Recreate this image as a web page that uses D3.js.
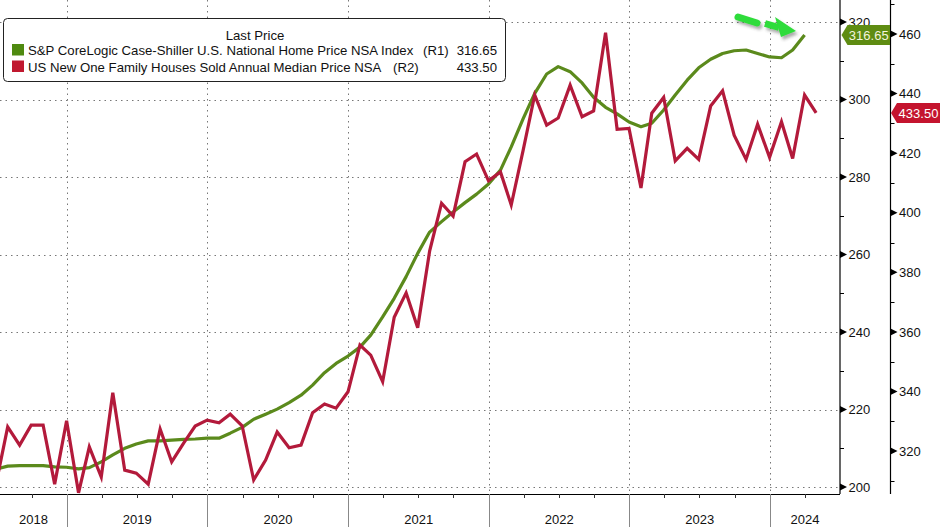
<!DOCTYPE html>
<html>
<head>
<meta charset="utf-8">
<script src="https://cdn.jsdelivr.net/npm/d3@7"></script>
<style>
  html, body { margin: 0; padding: 0; background: #fff; }
  svg { display: block; font-family: "Liberation Sans", Arial, sans-serif; }
</style>
</head>
<body>
<svg id="chart" width="940" height="527"></svg>
<script>
// monthly series, first value = June 2018, plotted at month end
const START_YEAR = 2018, START_MONTH = 5;

// S&P CoreLogic Case-Shiller U.S. National Home Price NSA Index (R1)
const caseShiller = [
  204.6, 205.4, 205.5, 205.5, 205.5, 205.2, 205.1,
  204.7, 205.0, 206.5, 208.3, 210.0, 211.1, 211.9, 211.9, 212.1, 212.3, 212.4, 212.6,
  212.6, 213.9, 215.4, 217.5, 218.8, 220.1, 221.8, 223.7, 226.3, 229.5, 231.9, 233.8,
  236.1, 239.2, 243.9, 248.7, 254.3, 260.3, 265.8, 268.5, 271.0, 273.4, 275.6, 278.2,
  281.8, 287.8, 295.1, 301.6, 306.6, 308.5, 307.2, 304.3, 300.6, 298.0, 296.3, 294.2,
  293.0, 293.9, 297.3, 301.2, 305.0, 308.2, 310.4, 311.9, 312.6, 312.8, 311.9, 311.0,
  310.8, 312.8, 316.65
];

// US New One Family Houses Sold Annual Median Price NSA (R2), $ thousands
const newHomeMedian = [
  308.6, 328.1, 322.0, 328.7, 328.7, 308.9, 330.2,
  306.0, 321.4, 311.3, 339.6, 313.6, 312.6, 308.9, 327.4, 316.4, 322.7, 328.4, 330.4,
  329.5, 332.4, 328.5, 310.3, 317.0, 326.4, 321.1, 322.0, 332.9, 335.8, 334.4, 339.9,
  355.6, 352.2, 343.3, 364.9, 373.1, 361.4, 387.1, 403.2, 398.9, 417.1, 419.7, 410.7,
  413.7, 402.6, 421.0, 439.5, 429.4, 431.8, 442.8, 432.2, 434.2, 460.4, 428.0, 428.3,
  408.3, 433.4, 438.7, 417.4, 421.6, 417.9, 435.8, 440.9, 426.0, 417.9, 429.7, 418.6,
  430.5, 418.2, 439.5, 433.5
];

const seriesNames = [
  "S&P CoreLogic Case-Shiller U.S. National Home Price NSA Index",
  "US New One Family Houses Sold Annual Median Price NSA"
];
const seriesAxes = ["(R1)", "(R2)"];
const lastPrices = ["316.65", "433.50"];
const r1Ticks = [200, 220, 240, 260, 280, 300, 320];
const r1Minor = [210, 230, 250, 270, 290, 310];
const r2Ticks = [320, 340, 360, 380, 400, 420, 440, 460];
const r2Minor = [310, 330, 350, 370, 390, 410, 430, 450, 470];
const yearLabels = [2018, 2019, 2020, 2021, 2022, 2023, 2024];

const GREEN = "#5b8a1c", RED = "#b31a3b";

const svg = d3.select("#chart");
const plotW = 840, plotH = 494;

const x = d3.scaleUtc()
  .domain([new Date(Date.UTC(2018, 6, 11)), new Date(Date.UTC(2024, 6, 1))])
  .range([0, plotW]);
const yR1 = d3.scaleLinear().domain([198.2, 325.7]).range([plotH, 0]);
const yR2 = d3.scaleLinear().domain([305.6, 471.4]).range([plotH, 0]);

function monthEnd(i) { return new Date(Date.UTC(START_YEAR, START_MONTH + i + 1, 0)); }

const greenData = caseShiller.map((v, i) => ({ date: monthEnd(i), v }));
const redData = newHomeMedian.map((v, i) => ({ date: monthEnd(i), v }));

const defs = svg.append("defs");
defs.append("clipPath").attr("id", "plotclip")
  .append("rect").attr("x", 0).attr("y", 0).attr("width", plotW).attr("height", plotH);
const shadow = defs.append("filter").attr("id", "shadow")
  .attr("x", "-20%").attr("y", "-50%").attr("width", "150%").attr("height", "200%");
shadow.append("feDropShadow").attr("dx", 2).attr("dy", 3).attr("stdDeviation", 1.6)
  .attr("flood-color", "#444").attr("flood-opacity", 0.45);

// ---------- grid ----------
const grid = svg.append("g").attr("stroke", "#777").attr("stroke-width", 1)
  .attr("stroke-dasharray", "1.5,4");
grid.selectAll("line.h").data(r1Ticks).join("line")
  .attr("x1", 0).attr("x2", plotW)
  .attr("y1", d => Math.round(yR1(d)) + 0.5).attr("y2", d => Math.round(yR1(d)) + 0.5);
const yearStarts = yearLabels.slice(1).map(y => new Date(Date.UTC(y, 0, 1)));
grid.selectAll("line.v").data(yearStarts).join("line")
  .attr("x1", d => Math.round(x(d)) + 0.5).attr("x2", d => Math.round(x(d)) + 0.5)
  .attr("y1", 0).attr("y2", plotH);

// ---------- lines ----------
const lines = svg.append("g").attr("clip-path", "url(#plotclip)");
lines.append("path").datum(greenData)
  .attr("fill", "none").attr("stroke", GREEN).attr("stroke-width", 3.2)
  .attr("stroke-linejoin", "round")
  .attr("d", d3.line().x(d => x(d.date)).y(d => yR1(d.v)));
lines.append("path").datum(redData)
  .attr("fill", "none").attr("stroke", RED).attr("stroke-width", 3.2)
  .attr("stroke-linejoin", "miter")
  .attr("d", d3.line().x(d => x(d.date)).y(d => yR2(d.v)));

// ---------- bottom axis ----------
const xa = svg.append("g");
xa.append("line").attr("x1", 0).attr("x2", plotW).attr("y1", plotH + 0.5).attr("y2", plotH + 0.5)
  .attr("stroke", "#000").attr("stroke-width", 1.2);
const quarters = d3.utcMonth.every(3).range(x.domain()[0], x.domain()[1])
  .filter(d => d.getUTCMonth() !== 0);
xa.selectAll("line.q").data(quarters).join("line")
  .attr("x1", d => Math.round(x(d)) + 0.5).attr("x2", d => Math.round(x(d)) + 0.5)
  .attr("y1", plotH).attr("y2", plotH + 4).attr("stroke", "#333");
xa.selectAll("line.yr").data(yearStarts).join("line")
  .attr("x1", d => Math.round(x(d)) + 0.5).attr("x2", d => Math.round(x(d)) + 0.5)
  .attr("y1", plotH).attr("y2", 527).attr("stroke", "#888");
xa.selectAll("text").data(yearLabels).join("text")
  .attr("x", y => {
    const a = Math.max(0, x(new Date(Date.UTC(y, 0, 1))));
    const b = Math.min(plotW, x(new Date(Date.UTC(y + 1, 0, 1))));
    return (a + b) / 2;
  })
  .attr("y", 523.5).attr("text-anchor", "middle").attr("font-size", 13).attr("fill", "#111")
  .text(d => d);

// ---------- right axes ----------
function rightAxis(xPos, scale, ticks, minor) {
  const g = svg.append("g");
  g.append("line").attr("x1", xPos).attr("x2", xPos).attr("y1", 0).attr("y2", plotH)
    .attr("stroke", "#000").attr("stroke-width", 1.2);
  g.selectAll("line.minor").data(minor.filter(v => scale(v) >= 0 && scale(v) <= plotH)).join("line")
    .attr("x1", xPos).attr("x2", xPos + 4)
    .attr("y1", d => Math.round(scale(d)) + 0.5).attr("y2", d => Math.round(scale(d)) + 0.5)
    .attr("stroke", "#000");
  g.selectAll("path.tri").data(ticks).join("path")
    .attr("d", d => { const y = scale(d); return `M${xPos},${y - 3.5}L${xPos + 7},${y}L${xPos},${y + 3.5}Z`; })
    .attr("fill", "#000");
  g.selectAll("text").data(ticks).join("text")
    .attr("x", xPos + 8.5).attr("y", d => scale(d)).attr("dy", "0.36em")
    .attr("font-size", 13).attr("fill", "#111").text(d => d);
}
rightAxis(840, yR1, r1Ticks, r1Minor);
rightAxis(890.5, yR2, r2Ticks, r2Minor);

// ---------- last-price tags ----------
function tag(xTip, yc, w, fill, textFill, label) {
  const h = 20;
  svg.append("path")
    .attr("d", `M${xTip},${yc}L${xTip + 6},${yc - h / 2}L${xTip + w},${yc - h / 2}L${xTip + w},${yc + h / 2}L${xTip + 6},${yc + h / 2}Z`)
    .attr("fill", fill);
  svg.append("text").attr("x", xTip + 6 + (w - 6) / 2).attr("y", yc).attr("dy", "0.36em")
    .attr("text-anchor", "middle").attr("font-size", 13).attr("fill", textFill).text(label);
}
tag(841.5, yR1(+lastPrices[0]), 48.5, "#5e8c12", "#f4f4dc", lastPrices[0]);
tag(891, yR2(+lastPrices[1]), 49, "#c4142e", "#fff", lastPrices[1]);

// ---------- annotation arrow ----------
const arrow = svg.append("g").attr("filter", "url(#shadow)");
arrow.append("path").attr("d", "M738,17L757,23")
  .attr("stroke", "#2fdc3a").attr("stroke-width", 7).attr("stroke-linecap", "round");
arrow.append("path").attr("d", "M765,23.5L779,27.5")
  .attr("stroke", "#2fdc3a").attr("stroke-width", 7);
arrow.append("path").attr("d", "M775,17L796,31L781,37Z").attr("fill", "#2fdc3a");

// ---------- legend ----------
const lg = svg.append("g");
lg.append("rect").attr("x", 3.5).attr("y", 18.5).attr("width", 502).attr("height", 63).attr("rx", 4)
  .attr("fill", "#fff").attr("stroke", "#222");
lg.append("text").attr("x", 255).attr("y", 40).attr("text-anchor", "middle")
  .attr("font-size", 13.2).attr("fill", "#111").text("Last Price");
const colors = [GREEN, "#c0182f"];
const rowY = [55, 71.5];
const axisX = [423, 393];
seriesNames.forEach((name, i) => {
  lg.append("rect").attr("x", 12).attr("y", rowY[i] - 11).attr("width", 12).attr("height", 11.5)
    .attr("fill", i === 0 ? "#4f8a10" : colors[1]);
  lg.append("text").attr("x", 28).attr("y", rowY[i]).attr("font-size", 13.2).attr("fill", "#111").text(name);
  lg.append("text").attr("x", axisX[i]).attr("y", rowY[i]).attr("font-size", 13.2).attr("fill", "#111").text(seriesAxes[i]);
  lg.append("text").attr("x", 497).attr("y", rowY[i]).attr("text-anchor", "end")
    .attr("font-size", 13.2).attr("fill", "#111").text(lastPrices[i]);
});
</script>
</body>
</html>
